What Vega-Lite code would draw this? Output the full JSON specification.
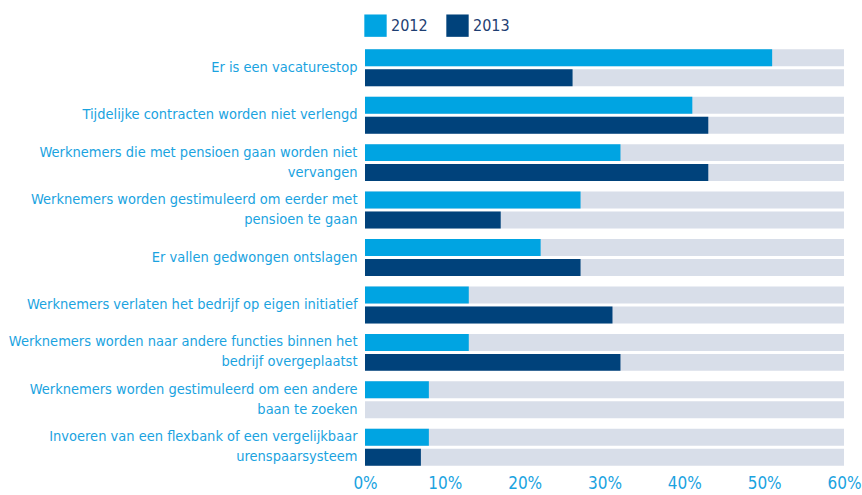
{
  "$schema": "https://vega.github.io/schema/vega-lite/v6.json",
  "width": 479,
  "height": 427,
  "autosize": {"type": "none"},
  "padding": {"left": 365, "top": 44, "right": 18, "bottom": 24},
  "background": "white",
  "config": {
    "view": {"stroke": null},
    "font": "DejaVu Sans Condensed"
  },
  "data": {
    "values": [
      {"cat": "Er is een vacaturestop", "year": "2012", "value": 51},
      {"cat": "Er is een vacaturestop", "year": "2013", "value": 26},
      {"cat": "Tijdelijke contracten worden niet verlengd", "year": "2012", "value": 41},
      {"cat": "Tijdelijke contracten worden niet verlengd", "year": "2013", "value": 43},
      {"cat": "Werknemers die met pensioen gaan worden niet|vervangen", "year": "2012", "value": 32},
      {"cat": "Werknemers die met pensioen gaan worden niet|vervangen", "year": "2013", "value": 43},
      {"cat": "Werknemers worden gestimuleerd om eerder met|pensioen te gaan", "year": "2012", "value": 27},
      {"cat": "Werknemers worden gestimuleerd om eerder met|pensioen te gaan", "year": "2013", "value": 17},
      {"cat": "Er vallen gedwongen ontslagen", "year": "2012", "value": 22},
      {"cat": "Er vallen gedwongen ontslagen", "year": "2013", "value": 27},
      {"cat": "Werknemers verlaten het bedrijf op eigen initiatief", "year": "2012", "value": 13},
      {"cat": "Werknemers verlaten het bedrijf op eigen initiatief", "year": "2013", "value": 31},
      {"cat": "Werknemers worden naar andere functies binnen het|bedrijf overgeplaatst", "year": "2012", "value": 13},
      {"cat": "Werknemers worden naar andere functies binnen het|bedrijf overgeplaatst", "year": "2013", "value": 32},
      {"cat": "Werknemers worden gestimuleerd om een andere|baan te zoeken", "year": "2012", "value": 8},
      {"cat": "Werknemers worden gestimuleerd om een andere|baan te zoeken", "year": "2013", "value": 0},
      {"cat": "Invoeren van een flexbank of een vergelijkbaar|urenspaarsysteem", "year": "2012", "value": 8},
      {"cat": "Invoeren van een flexbank of een vergelijkbaar|urenspaarsysteem", "year": "2013", "value": 7}
    ]
  },
  "encoding": {
    "y": {
      "field": "cat",
      "type": "nominal",
      "sort": null,
      "scale": {"paddingInner": 0.221, "paddingOuter": 0.1105},
      "axis": {
        "title": null,
        "domain": false,
        "ticks": false,
        "labelPadding": 8,
        "labelFont": "DejaVu Sans Condensed",
        "labelFontSize": 14.5,
        "labelColor": "#1aa3df",
        "labelLimit": 400,
        "labelLineHeight": 20,
        "labelOffset": {"condition": {"test": "indexof(datum.label, '|') >= 0", "value": -10}, "value": 0},
        "labelExpr": "split(datum.label, '|')"
      }
    },
    "yOffset": {
      "field": "year",
      "type": "nominal",
      "scale": {"paddingInner": 0.15, "paddingOuter": 0}
    }
  },
  "layer": [
    {
      "mark": {"type": "bar", "color": "#d8dee9"},
      "encoding": {
        "x": {
          "datum": 60,
          "type": "quantitative",
          "scale": {"domain": [0, 60], "nice": false},
          "axis": {
            "title": null,
            "domain": false,
            "ticks": false,
            "grid": false,
            "values": [0, 10, 20, 30, 40, 50, 60],
            "labelExpr": "datum.value + '%'",
            "labelFont": "DejaVu Sans Condensed",
            "labelFontSize": 17,
            "labelColor": "#1aa3df",
            "labelPadding": 4,
            "labelFlush": false,
            "labelOverlap": false
          }
        }
      }
    },
    {
      "mark": {"type": "bar"},
      "encoding": {
        "x": {"field": "value", "type": "quantitative"},
        "color": {
          "field": "year",
          "type": "nominal",
          "scale": {"domain": ["2012", "2013"], "range": ["#00a4e2", "#00427b"]},
          "legend": {
            "title": null,
            "orient": "none",
            "direction": "horizontal",
            "legendX": -1,
            "legendY": -30,
            "padding": 0,
            "symbolType": "square",
            "symbolSize": 500,
            "symbolStrokeWidth": 0,
            "symbolOpacity": 1,
            "labelFont": "DejaVu Sans Condensed",
            "labelFontSize": 16,
            "labelColor": "#1e3e72",
            "labelOffset": 4,
            "columnPadding": 18
          }
        }
      }
    }
  ]
}
